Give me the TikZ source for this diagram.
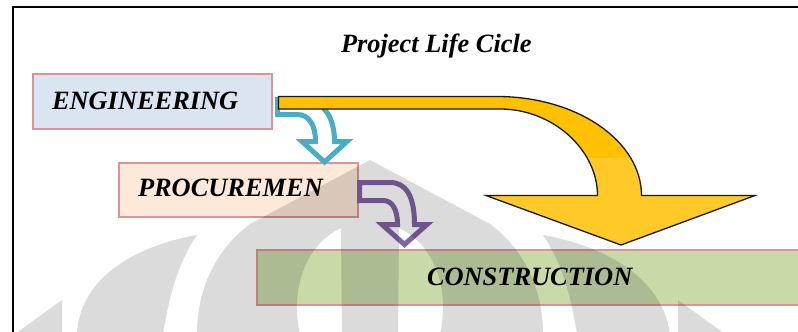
\documentclass[tikz,border=0pt]{standalone}
\usepackage{fontspec}
\setmainfont{Liberation Serif}
\definecolor{boxline}{HTML}{D99594}
\definecolor{engfill}{HTML}{DBE5F1}
\definecolor{procfill}{HTML}{FDE9D9}
\definecolor{consfill}{HTML}{C9DAA9}
\definecolor{gold}{HTML}{FFC000}
\definecolor{goldlow}{HTML}{FFC928}
\definecolor{aqua}{HTML}{4BACC6}
\definecolor{violet}{HTML}{8064A2}
\begin{document}
\begin{tikzpicture}[x=1pt,y=-1pt,
  box/.style={draw=boxline, line width=1.8pt, rectangle, outer sep=0pt, inner sep=0pt, anchor=north west},
  lbl/.style={font=\fontsize{26.4}{30}\selectfont\bfseries\itshape, inner sep=0pt, outer sep=0pt, anchor=base west},
  bentarrow/.style={line width=5pt, fill=white, line join=miter, miter limit=10},
  wmark/.style={fill=black, fill opacity=0.14}]
\useasboundingbox (0,0) rectangle (798,332);

% frame
\draw[line width=2pt, black] (12.7,333) -- (12.7,7.3) -- (800,7.3);

% phase boxes
\node[box, fill=engfill, minimum width=239pt, minimum height=55pt] (eng) at (33,74) {};
\node[box, fill=procfill, minimum width=239pt, minimum height=54pt] (proc) at (119,163) {};
\node[box, fill=consfill, minimum width=560pt, minimum height=55pt] (cons) at (257,250) {};

% engineering -> procurement
\draw[bentarrow, draw=aqua] (277.5,99.5) -- (300,99.5) .. controls (322,99.5) and (334.5,115) .. (334.5,141.5)
  -- (347,141.5) -- (324.5,162) -- (302,141.5) -- (315.5,141.5)
  .. controls (315.5,125) and (309,114.5) .. (297,114.5) -- (277.5,114.5) -- cycle;

% engineering -> construction
\def\goldpath{(278.5,96.5) -- (497,96.5) .. controls (577,96.5) and (641.5,141) .. (641.5,195.5)
  -- (755,195.5) -- (621,245) -- (486,195.5) -- (597.5,195.5)
  .. controls (597.5,150) and (553,109) .. (500,109) -- (278.5,109) -- cycle}
\fill[gold] \goldpath;
\begin{scope}
  \clip (0,158) rectangle (798,260);
  \fill[goldlow] \goldpath;
\end{scope}
\draw[line width=1.3pt, black!90, line join=miter] \goldpath;

% procurement -> construction
\draw[bentarrow, draw=violet] (359.5,182.5) -- (390,182.5) .. controls (406,182.5) and (414.5,196) .. (414.5,224.5)
  -- (427,224.5) -- (404.5,244.5) -- (382,224.5) -- (397.5,224.5)
  .. controls (397.5,209) and (392,200.5) .. (383,200.5) -- (359.5,200.5) -- cycle;

% emblem in the background
\begin{scope}
  \clip (13,0) rectangle (798,332);
  \fill[wmark, even odd rule]
    (197,334) .. controls (197,290) and (215,250) .. (250,224) -- (370,160) -- (490,224)
      .. controls (525,250) and (543,290) .. (543,334) -- cycle
    (341,228) -- (342,334) -- (300,334) .. controls (290,290) and (305,245) .. (341,228) -- cycle
    (399,228) -- (398,334) -- (440,334) .. controls (450,290) and (435,245) .. (399,228) -- cycle;
  \fill[wmark] (197,235) .. controls (140,245) and (80,275) .. (77,334) -- (163,334)
    .. controls (170,290) and (180,260) .. (197,235) -- cycle;
  \fill[wmark] (543,235) .. controls (600,245) and (662,275) .. (670,334) -- (577,334)
    .. controls (570,290) and (560,260) .. (543,235) -- cycle;
  \fill[wmark] (15,334) -- (62,300) -- (62,334) -- cycle;
  \fill[wmark] (725,334) -- (678,300) -- (678,334) -- cycle;
\end{scope}

% labels
\node[lbl] (title) at (341,52) {Project Life Cicle};
\node[lbl] (engt) at (52,109) {ENGINEERING};
\node[lbl] (proct) at (138,196) {PROCUREMEN};
\node[lbl] (const) at (427,285) {CONSTRUCTION};
\end{tikzpicture}
\end{document}
